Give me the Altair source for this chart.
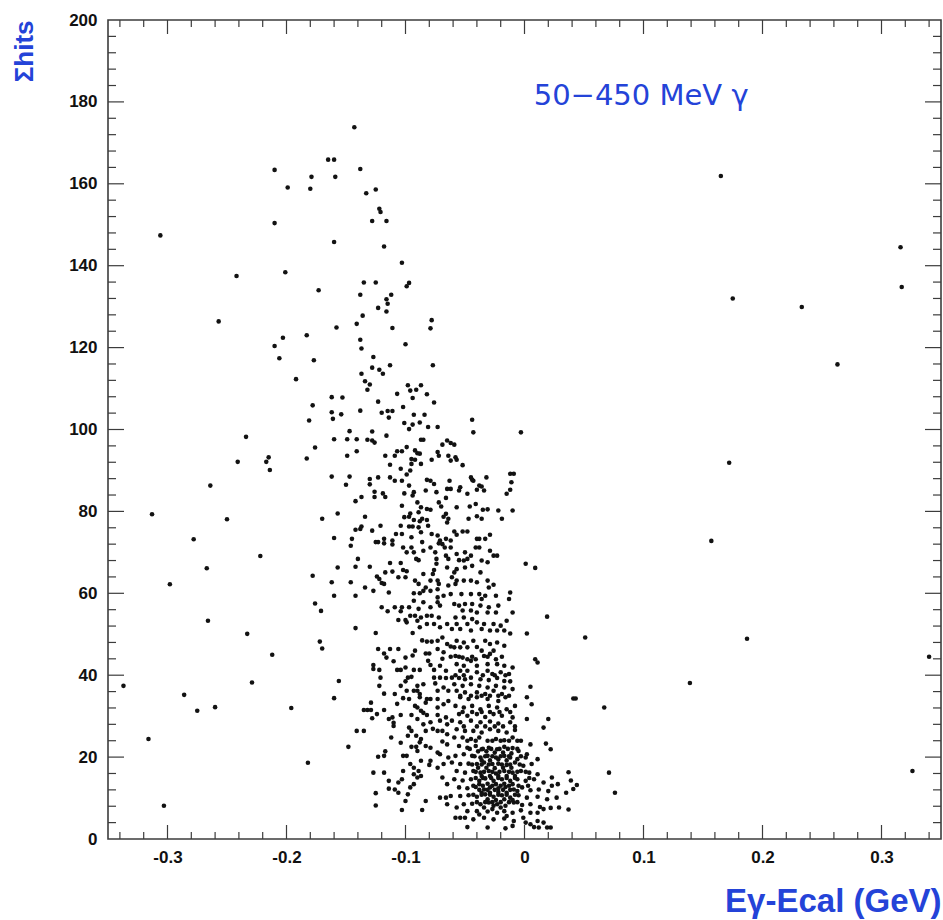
import altair as alt
import pandas as pd

# ---------------- data (Eγ - Ecal in GeV, Σhits) ----------------
pts_far_left = [(-0.210,163.4),(-0.199,159.1),(-0.210,150.4),(-0.306,147.4),(-0.201,138.4),(-0.242,137.5),
    (-0.257,126.4),(-0.203,122.4),(-0.210,120.4),(-0.206,117.4),(-0.192,112.3),(-0.234,98.2),(-0.241,92.1),
    (-0.215,93.2),(-0.217,92.1),(-0.214,90.1),(-0.264,86.3),(-0.313,79.3),(-0.250,78.1),(-0.278,73.2),
    (-0.222,69.1),(-0.267,66.1),(-0.298,62.2),(-0.266,53.3),(-0.233,50.1),(-0.212,45.0),(-0.337,37.4),
    (-0.229,38.2),(-0.286,35.2),(-0.275,31.3),(-0.260,32.2),(-0.196,32.0),(-0.316,24.4),(-0.303,8.1)]

pts_plume_top = [(-0.143,173.8),(-0.165,165.9),(-0.160,165.9),(-0.138,163.6),(-0.179,161.7),(-0.159,161.7),
    (-0.180,158.8),(-0.133,157.7),(-0.125,158.6),(-0.122,153.9),(-0.121,153.1),(-0.128,150.9),(-0.116,150.9),
    (-0.160,145.8),(-0.118,144.7),(-0.103,140.7),(-0.135,135.9),(-0.125,135.9),(-0.097,135.8),(-0.099,135.0),
    (-0.173,134.0),(-0.138,132.9),(-0.112,132.9),(-0.116,131.8),(-0.115,130.7),(-0.123,129.7),(-0.116,128.8),
    (-0.136,127.8),(-0.141,125.8),(-0.158,124.9),(-0.111,124.8),(-0.078,126.7),(-0.079,124.7),(-0.183,123.0),
    (-0.138,121.9),(-0.137,119.8),(-0.100,120.8),(-0.177,116.9),(-0.127,117.7)]

pts_gap = [(-0.178,105.9),(-0.181,102.2),(-0.176,95.6),(-0.183,92.9),(-0.170,78.2),(-0.178,64.3),
    (-0.176,57.5),(-0.171,55.7),(-0.172,48.2),(-0.170,46.5),(-0.182,18.6)]

pts_right = [(0.165,161.9),(0.316,144.5),(0.317,134.8),(0.175,132.0),(0.233,129.9),(0.263,115.9),(0.172,91.9),
    (0.157,72.8),(0.051,49.2),(0.187,48.9),(0.340,44.5),(0.139,38.1),(0.041,34.3),(0.043,34.3),(0.067,32.1),
    (0.037,16.3),(0.071,16.2),(0.326,16.6),(0.039,14.3),(0.044,13.2),(0.041,12.2),(0.035,11.3),(0.076,11.3),
    (0.037,7.2)]

pts_mid = [(-0.113,115.7),(-0.077,115.7),(-0.128,115.1),(-0.122,114.6),(-0.137,113.6),(-0.119,113.6),
    (-0.134,111.8),(-0.130,111.0),(-0.132,109.7),(-0.098,110.8),(-0.091,109.7),(-0.087,110.8),(-0.096,109.5),
    (-0.107,108.7),(-0.082,108.6),(-0.162,107.9),(-0.153,107.8),(-0.094,107.7),(-0.076,106.6),(-0.123,106.8),
    (-0.102,105.5),(-0.138,104.6),(-0.120,104.1),(-0.115,104.5),(-0.111,104.5),(-0.162,104.2),(-0.154,103.7),
    (-0.093,103.6),(-0.084,103.6),(-0.114,102.9),(-0.161,102.6),(-0.044,102.4),(-0.101,101.6),(-0.094,101.2),
    (-0.088,101.7),(-0.081,100.6),(-0.073,100.6),(-0.097,100.1),(-0.003,99.3),(-0.043,99.3),(-0.128,99.5),
    (-0.147,99.6),(-0.160,97.6),(-0.149,97.6),(-0.141,97.6),(-0.132,97.5),(-0.128,97.3),(-0.126,96.8),
    (-0.116,98.5),(-0.087,97.5),(-0.085,97.5),(-0.065,97.3),(-0.062,96.7),(-0.059,96.3),(-0.069,96.3),
    (-0.099,95.7),(-0.092,94.9),(-0.090,94.2),(-0.088,94.1),(-0.107,94.7),(-0.103,94.7),(-0.117,93.6),
    (-0.109,93.6),(-0.073,94.5),(-0.072,93.6),(-0.064,93.6),(-0.058,93.2),(-0.057,92.6),(-0.062,92.4),
    (-0.149,93.6),(-0.141,94.7),(-0.095,92.8),(-0.092,92.6),(-0.078,92.6),(-0.095,91.6),(-0.087,91.6),
    (-0.113,91.4),(-0.052,91.3),(-0.104,90.4),(-0.096,90.0),(-0.099,89.0),(-0.012,89.2),(-0.009,89.2),
    (-0.162,88.5),(-0.147,88.5),(-0.130,87.9),(-0.123,88.3),(-0.113,88.3),(-0.109,87.5),(-0.103,87.5),
    (-0.082,87.7),(-0.079,87.5),(-0.076,86.7),(-0.063,87.5),(-0.045,88.3),(-0.044,87.7),(-0.043,87.5),
    (-0.032,88.3),(-0.038,86.3),(-0.036,86.1),(-0.097,86.3),(-0.150,86.5),(-0.130,86.6),(-0.011,87.1),
    (-0.126,84.8),(-0.119,84.4),(-0.117,83.5),(-0.126,83.5),(-0.137,83.5),(-0.142,82.5),(-0.101,84.4),
    (-0.093,84.7),(-0.094,83.9),(-0.083,85.1),(-0.074,84.7),(-0.065,85.5),(-0.062,85.5),(-0.054,85.9),
    (-0.055,85.1),(-0.048,84.3),(-0.040,85.3),(-0.034,85.1),(-0.015,84.3),(-0.012,85.3),(-0.066,83.3),
    (-0.103,81.4),(-0.090,82.2),(-0.087,81.0),(-0.089,79.8),(-0.082,80.6),(-0.079,80.4),(-0.072,82.2),
    (-0.070,81.2),(-0.057,81.0),(-0.046,81.2),(-0.041,81.8),(-0.035,80.4),(-0.031,80.5),(-0.022,80.2),
    (-0.010,80.2),(-0.157,79.5),(-0.096,79.5),(-0.066,79.4),(-0.134,78.7),(-0.101,78.6),(-0.097,78.7),
    (-0.093,77.9),(-0.088,77.6),(-0.086,78.2),(-0.082,77.9),(-0.068,78.7),(-0.064,78.2),(-0.065,77.3),
    (-0.047,78.2),(-0.040,78.8),(-0.036,78.2),(-0.019,78.2),(-0.137,76.3),(-0.138,75.7),(-0.128,75.3),
    (-0.121,76.5),(-0.104,76.5),(-0.097,76.3),(-0.094,76.3),(-0.089,76.1),(-0.081,76.5),(-0.142,75.5),
    (-0.108,74.5),(-0.103,74.5),(-0.087,74.9),(-0.078,74.5),(-0.073,74.1),(-0.059,75.1),(-0.057,74.3),
    (-0.052,75.1),(-0.048,75.1),(-0.029,74.3),(-0.033,73.3),(-0.160,73.5),(-0.145,73.3),(-0.118,73.3),
    (-0.125,72.5),(-0.123,72.5),(-0.111,72.9),(-0.095,73.7),(-0.086,72.5),(-0.071,72.9),(-0.066,73.3),
    (-0.072,72.2),(-0.062,72.9),(-0.040,73.3),(-0.038,73.3),(-0.146,71.6),(-0.118,72.2),(-0.111,71.9),
    (-0.102,71.2),(-0.095,71.2),(-0.093,70.0),(-0.079,71.2),(-0.075,70.0),(-0.069,72.0),(-0.067,71.2),
    (-0.062,71.2),(-0.041,71.2),(-0.038,71.2),(-0.029,70.4),(-0.099,70.0),(-0.085,70.4),(-0.066,69.2),
    (-0.057,69.6),(-0.050,70.0),(-0.045,69.2),(-0.026,69.2),(-0.023,69.2),(-0.140,68.4),(-0.091,68.4),
    (-0.089,68.1),(-0.074,68.4),(-0.064,68.4),(-0.055,68.1),(-0.051,68.0),(-0.048,68.4),(-0.036,68.0),
    (-0.157,66.3),(-0.142,66.5),(-0.130,66.5),(-0.113,67.4),(-0.104,67.4),(-0.117,65.1),(-0.111,65.3),
    (-0.102,65.7),(-0.099,65.4),(-0.085,64.7),(-0.076,65.7),(-0.074,67.2),(-0.065,66.3),(-0.057,65.9),
    (-0.050,66.3),(-0.044,66.7),(-0.031,67.6),(0.001,67.2),(0.009,66.2),(-0.124,64.1),(-0.077,64.7),
    (-0.059,65.1),(-0.037,65.1),(-0.162,62.7),(-0.146,62.7),(-0.122,63.5),(-0.120,62.5),(-0.134,61.4),
    (-0.127,60.6),(-0.118,62.3),(-0.106,63.9),(-0.100,63.9),(-0.092,63.1),(-0.089,62.3),(-0.079,63.1),
    (-0.073,63.1),(-0.072,62.3),(-0.061,63.9),(-0.057,63.1),(-0.058,62.3),(-0.051,63.1),(-0.045,63.1),
    (-0.040,62.7),(-0.031,63.1),(-0.026,62.1),(-0.030,61.4),(-0.012,60.2),(-0.083,61.4),(-0.073,61.0),
    (-0.064,61.9),(-0.142,59.4),(-0.114,60.2),(-0.093,60.0),(-0.088,60.0),(-0.085,60.6),(-0.079,60.6),
    (-0.073,59.0),(-0.068,59.4),(-0.062,59.8),(-0.053,59.8),(-0.045,59.8),(-0.038,59.8),(-0.033,59.4),
    (-0.024,59.4),(-0.013,58.6),(-0.036,58.6)]

pts_low_left = [(-0.160,59.4),(-0.093,58.2),(-0.085,57.8),(-0.073,57.8),(-0.120,56.6),(-0.115,55.6),
    (-0.109,56.6),(-0.103,56.6),(-0.097,56.6),(-0.104,55.6),(-0.089,56.2),(-0.079,56.6),(-0.071,57.0),
    (-0.096,54.5),(-0.092,54.5),(-0.087,54.1),(-0.106,53.5),(-0.100,53.5),(-0.082,54.5),(-0.078,54.5),
    (-0.072,54.1),(-0.099,52.9),(-0.090,53.3),(-0.142,51.5),(-0.125,50.3),(-0.094,50.3),(-0.088,51.7),
    (-0.082,52.5),(-0.076,52.5),(-0.071,51.7),(-0.065,52.5),(-0.082,48.2),(-0.078,48.2),(-0.073,48.4),
    (-0.069,49.2),(-0.065,47.6),(-0.123,46.4),(-0.118,45.3),(-0.113,46.4),(-0.106,46.4),(-0.116,44.3),
    (-0.100,44.3),(-0.110,43.4),(-0.092,46.0),(-0.083,45.3),(-0.080,45.3),(-0.073,46.4),(-0.068,45.6),
    (-0.127,42.5),(-0.127,41.5),(-0.122,41.3),(-0.107,41.3),(-0.104,41.3),(-0.100,41.9),(-0.093,41.3),
    (-0.088,41.3),(-0.079,42.5),(-0.076,41.3),(-0.071,42.3),(-0.066,41.1),(-0.121,39.4),(-0.122,37.4),
    (-0.098,39.4),(-0.095,39.6),(-0.076,39.4),(-0.071,39.4),(-0.066,39.3),(-0.156,38.6),(-0.104,37.4),
    (-0.100,38.5),(-0.090,37.4),(-0.085,37.8),(-0.093,36.2),(-0.090,36.2),(-0.088,35.4),(-0.099,36.2),
    (-0.109,35.4),(-0.073,36.2),(-0.068,37.0),(-0.064,36.2),(-0.160,34.4),(-0.129,33.3),(-0.102,34.4),
    (-0.097,34.2),(-0.088,34.6),(-0.083,33.3),(-0.082,34.2),(-0.079,34.2),(-0.073,34.2),(-0.068,32.9),
    (-0.064,33.7),(-0.135,31.5),(-0.132,31.5),(-0.129,31.5),(-0.124,30.5),(-0.128,29.5),(-0.118,31.5),
    (-0.111,29.7),(-0.114,29.3),(-0.110,28.4),(-0.110,27.6),(-0.104,30.3),(-0.095,30.3),(-0.090,32.1),
    (-0.087,31.3),(-0.082,30.3),(-0.079,28.5),(-0.073,32.1),(-0.073,30.3),(-0.071,28.9),(-0.066,29.7),
    (-0.065,28.0),(-0.090,29.3),(-0.085,28.0),(-0.141,26.4),(-0.135,26.4),(-0.095,26.4),(-0.098,25.2),
    (-0.091,25.2),(-0.087,24.4),(-0.083,26.4),(-0.073,26.4),(-0.069,26.4),(-0.065,25.6),(-0.148,22.5),
    (-0.123,20.1),(-0.117,21.4),(-0.118,20.3),(-0.102,20.3),(-0.099,20.3),(-0.095,22.5),(-0.091,22.5),
    (-0.088,23.6),(-0.083,22.7),(-0.079,22.3),(-0.090,21.5),(-0.073,21.1),(-0.071,20.7),(-0.065,23.1),
    (-0.064,19.9),(-0.096,18.3),(-0.093,17.4),(-0.087,19.1),(-0.079,19.1),(-0.080,18.1),(-0.068,18.3),
    (-0.073,17.4),(-0.127,16.2),(-0.118,16.2),(-0.102,16.6),(-0.093,15.8),(-0.089,16.6),(-0.090,15.0),
    (-0.087,15.4),(-0.103,14.6),(-0.114,14.2),(-0.106,13.8),(-0.093,13.4),(-0.069,15.0),(-0.065,13.4),
    (-0.096,12.6),(-0.114,12.3),(-0.109,12.1),(-0.106,11.3),(-0.125,11.2),(-0.098,10.9),(-0.071,10.1),
    (-0.066,10.1),(-0.083,9.3),(-0.100,9.3),(-0.125,8.2),(-0.103,7.1),(-0.086,7.1),(-0.065,8.5),
    (-0.112,24.8),(-0.104,23.5),(-0.097,27.2),(-0.085,30.8),(-0.077,26.9),(-0.069,23.8),(-0.075,38.0),
    (-0.081,43.5),(-0.094,44.8),(-0.086,48.5),(-0.069,44.0),(-0.062,47.0),(-0.107,33.0),(-0.118,35.5),
    (-0.092,32.5)]

pts_low_right = [(-0.059,57.4),(-0.055,57.0),(-0.050,57.4),(-0.044,57.4),(-0.037,57.0),(-0.030,56.6),
    (-0.022,57.0),(-0.052,55.8),(-0.045,55.8),(-0.040,55.3),(-0.031,55.3),(-0.024,55.3),(-0.010,55.3),
    (0.019,54.3),(-0.058,54.1),(-0.051,54.1),(-0.044,53.7),(-0.057,52.5),(-0.048,52.5),(-0.040,52.9),
    (-0.034,52.5),(-0.026,52.5),(-0.020,52.1),(-0.015,53.3),(-0.061,51.3),(-0.054,51.3),(-0.045,50.9),
    (-0.036,51.3),(-0.029,50.9),(-0.023,50.9),(-0.017,50.9),(-0.012,50.2),(0.002,50.2),(-0.057,48.4),
    (-0.051,48.0),(-0.043,48.4),(-0.033,48.4),(-0.029,47.6),(-0.023,48.0),(-0.017,47.2),(-0.059,46.8),
    (-0.054,46.8),(-0.048,46.8),(-0.040,46.9),(-0.036,46.0),(-0.026,46.0),(-0.058,44.7),(-0.052,44.3),
    (-0.048,43.9),(-0.045,43.5),(-0.041,43.9),(-0.034,44.7),(-0.029,45.2),(-0.024,43.9),(0.009,43.9),
    (0.011,43.1),(-0.057,42.7),(-0.051,42.3),(-0.040,42.3),(-0.031,42.7),(-0.023,42.7),(-0.017,42.3),
    (-0.010,41.9),(-0.054,41.1),(-0.048,41.1),(-0.040,40.7),(-0.031,41.1),(-0.027,40.3),(-0.020,40.7),
    (-0.013,40.3),(-0.061,39.4),(-0.055,39.3),(-0.050,39.0),(-0.045,39.4),(-0.037,39.0),(-0.030,38.8),
    (-0.023,39.3),(-0.017,38.6),(-0.012,38.5),(-0.059,37.8),(-0.052,37.4),(-0.045,37.8),(-0.038,37.4),
    (-0.031,37.0),(-0.024,37.4),(-0.017,37.0),(-0.010,36.6),(0.005,37.2),(-0.057,36.2),(-0.050,35.8),
    (-0.040,35.8),(-0.033,35.4),(-0.026,36.2),(-0.019,35.4),(-0.054,34.6),(-0.047,34.2),(-0.040,34.6),
    (-0.031,34.2),(-0.022,33.7),(-0.016,34.6),(0.002,34.6),(0.006,32.9),(-0.058,32.5),(-0.051,32.1),
    (-0.044,32.5),(-0.037,31.7),(-0.030,32.5),(-0.023,32.1),(-0.015,31.7),(-0.008,32.5),(-0.055,30.5),
    (-0.048,30.1),(-0.040,30.5),(-0.033,29.8),(-0.026,30.5),(-0.019,30.1),(-0.010,29.7),(-0.061,28.9),
    (-0.054,28.5),(-0.045,28.9),(-0.037,28.5),(-0.029,28.7),(-0.022,28.2),(-0.012,28.5),(0.002,29.3),
    (0.016,27.2),(0.020,29.3),(-0.057,26.8),(-0.050,26.4),(-0.043,26.4),(-0.036,26.0),(-0.029,26.8),
    (-0.022,26.4),(-0.015,26.0),(-0.008,26.6),(-0.059,24.8),(-0.052,24.8),(-0.045,24.4),(-0.038,24.8),
    (-0.031,24.0),(-0.024,24.4),(-0.017,24.1),(-0.010,24.8),(-0.003,24.0),(0.005,23.1),(0.018,23.3),
    (0.022,21.9),(-0.055,22.7),(-0.048,22.3),(-0.041,22.7),(-0.036,21.9),(-0.030,22.3),(-0.023,21.9),
    (-0.017,22.5),(-0.010,22.2),(-0.005,21.5),(0.002,20.7),(-0.058,20.3),(-0.051,20.7),(-0.044,20.3),
    (-0.037,19.9),(-0.031,20.3),(-0.024,19.9),(-0.017,20.3),(-0.012,19.9),(-0.006,19.5),(0.001,19.9),
    (0.011,19.5),(-0.061,18.7),(-0.054,18.3),(-0.047,18.4),(-0.040,18.3),(-0.034,18.7),(-0.027,18.3),
    (-0.022,18.4),(-0.015,18.1),(-0.008,18.7),(-0.001,17.9),(0.006,18.3),(-0.057,16.6),(-0.050,16.2),
    (-0.043,16.6),(-0.037,16.2),(-0.030,16.6),(-0.024,16.0),(-0.017,16.6),(-0.010,16.2),(-0.003,16.6),
    (0.004,16.2),(0.011,15.8),(0.023,15.0),(-0.059,14.6),(-0.052,14.3),(-0.045,14.6),(-0.038,14.2),
    (-0.033,14.8),(-0.026,14.2),(-0.019,14.6),(-0.012,14.2),(-0.006,14.6),(0.001,14.2),(0.008,14.6),
    (0.016,13.8),(0.023,13.0),(0.028,13.4),(-0.055,12.6),(-0.048,12.4),(-0.041,12.7),(-0.034,12.1),
    (-0.029,12.6),(-0.022,12.4),(-0.016,12.7),(-0.009,12.1),(-0.002,12.6),(0.005,11.9),(0.012,12.1),
    (0.020,11.7),(-0.062,10.5),(-0.054,10.5),(-0.047,10.7),(-0.040,10.3),(-0.033,10.9),(-0.026,10.3),
    (-0.019,10.7),(-0.012,10.1),(-0.005,10.7),(0.002,10.1),(0.011,10.3),(0.019,9.7),(0.027,10.1),
    (-0.051,8.5),(-0.044,8.6),(-0.037,8.5),(-0.030,8.9),(-0.023,8.5),(-0.016,8.1),(-0.009,8.9),
    (-0.002,8.3),(0.005,8.5),(0.013,7.8),(0.029,7.7),(0.022,7.6),(-0.057,7.7),(-0.048,6.8),(-0.040,6.8),
    (-0.031,6.7),(-0.023,6.4),(-0.017,6.8),(-0.010,6.4),(-0.003,7.0),(0.005,6.4),(0.011,6.4),(0.016,7.3),
    (-0.026,8.1),(-0.038,6.0),(-0.015,5.6),(-0.058,5.2),(-0.054,5.2),(-0.050,5.2),(-0.043,4.8),
    (-0.034,5.2),(-0.026,4.8),(-0.017,5.0),(-0.009,4.4),(-0.001,5.2),(0.011,4.4),(0.016,4.0),(0.001,4.0),
    (-0.048,2.9),(-0.031,2.8),(-0.016,2.6),(-0.010,3.2),(0.005,3.6),(0.008,2.9),(0.012,2.8),(0.019,2.8),
    (0.022,2.8)]

pts_core = [(-0.039,21.4),(-0.032,21.4),(-0.025,21.1),(-0.018,21.1),(-0.011,20.9),(-0.036,19.2),
    (-0.029,19.2),(-0.022,19.5),(-0.015,19.2),(-0.039,17.4),(-0.032,17.4),(-0.025,17.3),(-0.018,17.4),
    (-0.011,17.4),(-0.036,15.4),(-0.029,15.4),(-0.022,15.4),(-0.015,15.4),(-0.008,15.4),(-0.038,13.4),
    (-0.031,13.5),(-0.024,13.4),(-0.017,13.5),(-0.010,13.4),(-0.036,11.3),(-0.029,11.3),(-0.022,11.5),
    (-0.015,11.3),(-0.006,11.7),(-0.031,9.7),(-0.024,9.5),(-0.017,9.7),(-0.010,9.5),(-0.034,7.7),
    (-0.027,7.3),(-0.020,7.7)]

pts_core_dense = [(-0.046,22.0),(-0.035,22.0),(-0.028,22.0),(-0.021,22.0),(-0.014,22.0),(-0.006,22.0),
    (-0.042,20.2),(-0.033,20.2),(-0.027,20.2),(-0.020,20.2),(-0.013,20.2),(-0.003,20.2),
    (-0.044,18.2),(-0.036,18.2),(-0.030,18.2),(-0.019,18.2),(-0.012,18.2),(-0.004,18.2),
    (-0.041,16.4),(-0.034,16.4),(-0.027,16.4),(-0.021,16.4),(-0.013,16.4),(-0.006,16.4),(0.001,16.4),
    (-0.041,14.9),(-0.035,14.9),(-0.028,14.9),(-0.022,14.9),(-0.015,14.9),(-0.008,14.9),(0.004,14.9),
    (-0.043,13.0),(-0.035,13.0),(-0.027,13.0),(-0.020,13.0),(-0.013,13.0),(-0.005,13.0),(0.003,13.0),
    (-0.038,12.0),(-0.031,12.0),(-0.025,12.0),(-0.018,12.0),(-0.012,12.0),
    (-0.043,10.8),(-0.036,10.8),(-0.029,10.8),(-0.022,10.8),(-0.015,10.8),(-0.008,10.8),
    (-0.040,9.0),(-0.033,9.0),(-0.027,9.0),(-0.020,9.0),(-0.013,9.0),(-0.006,9.0),
    (-0.048,24.0),(-0.041,24.0),(-0.027,24.0),(-0.020,24.0),(-0.013,24.0),(-0.006,24.0),
    (-0.051,27.5),(-0.040,27.5),(-0.033,27.5),(-0.025,27.5),(-0.018,27.5),(-0.008,27.5),
    (-0.052,31.0),(-0.044,31.0),(-0.036,31.0),(-0.029,31.0),(-0.021,31.0),(-0.012,31.0),
    (-0.054,35.0),(-0.045,35.0),(-0.036,35.0),(-0.029,35.0),(-0.022,35.0),(-0.013,35.0),
    (-0.058,40.0),(-0.051,40.0),(-0.035,40.0),(-0.025,40.0),(-0.016,40.0),
    (-0.062,44.5),(-0.055,44.5),(-0.044,44.5),(-0.031,44.5),(-0.019,44.5)]

x_major = [-0.3, -0.2, -0.1, 0.0, 0.1, 0.2, 0.3]
x_minor = [-0.34, -0.32, -0.28, -0.26, -0.24, -0.22, -0.18, -0.16, -0.14, -0.12, -0.08, -0.06, -0.04, -0.02,
           0.02, 0.04, 0.06, 0.08, 0.12, 0.14, 0.16, 0.18, 0.22, 0.24, 0.26, 0.28, 0.32, 0.34]
y_labels = [0, 20, 40, 60, 80, 100, 120, 140, 160, 180, 200]
y_major = [20, 40, 60, 80, 100, 120, 140, 160, 180]
y_minor = [4, 8, 12, 16, 24, 28, 32, 36, 44, 48, 52, 56, 64, 68, 72, 76, 84, 88, 92, 96, 104, 108, 112, 116,
           124, 128, 132, 136, 144, 148, 152, 156, 164, 168, 172, 176, 184, 188, 192, 196]
annotation = ["50\u2212450 MeV \u03b3"]

# ---------------- chart ----------------
W, H = 833, 819
BLUE = "#2443d8"
FRAME = "#3c3c3c"
LABEL_FONT = "Liberation Sans Narrow, Liberation Sans, Arial"

all_pts = (pts_far_left + pts_plume_top + pts_gap + pts_right + pts_mid + pts_low_left
           + pts_low_right + pts_core + pts_core_dense)
df = pd.DataFrame(all_pts, columns=["de", "hits"])

xs = alt.Scale(domain=[-0.35, 0.35], nice=False, zero=False)
ys = alt.Scale(domain=[0, 200], nice=False, zero=False)

x_axis = alt.Axis(
    values=x_major, labelExpr="replace(format(datum.value, '.1~f'), '\u2212', '-')",
    labelFontSize=17, labelFont=LABEL_FONT, labelFontWeight="bold", labelColor="#111",
    labelPadding=10, ticks=False, domain=False, grid=False,
    title="E\u03b3-Ecal (GeV)", titleColor=BLUE, titleFontSize=33, titleFont=LABEL_FONT,
    titleFontWeight="bold", titleX=W, titleY=72, titleAlign="right", titleBaseline="alphabetic")
y_axis = alt.Axis(
    values=y_labels, labelFontSize=17, labelFont=LABEL_FONT, labelFontWeight="bold",
    labelColor="#111", labelPadding=11, ticks=False, domain=False, grid=False,
    title="\u03a3hits", titleColor=BLUE, titleFontSize=26, titleFont=LABEL_FONT,
    titleFontWeight="bold", titleAngle=270, titleX=-84, titleY=0, titleAlign="right",
    titleBaseline="middle")

points = alt.Chart(df).mark_circle(size=21, color="#121212", opacity=1).encode(
    x=alt.X("de:Q", scale=xs, axis=x_axis),
    y=alt.Y("hits:Q", scale=ys, axis=y_axis),
)

def xticks(vals, length, top):
    d = pd.DataFrame({"de": vals})
    y0 = 0 if top else H
    y1 = length if top else H - length
    return alt.Chart(d).mark_rule(color=FRAME, strokeWidth=1.2).encode(
        x=alt.X("de:Q", scale=xs, axis=x_axis), y=alt.value(y0), y2=alt.value(y1))

def yticks(vals, length, right):
    d = pd.DataFrame({"hits": vals})
    x0 = W if right else 0
    x1 = W - length if right else length
    return alt.Chart(d).mark_rule(color=FRAME, strokeWidth=1.2).encode(
        y=alt.Y("hits:Q", scale=ys, axis=y_axis), x=alt.value(x0), x2=alt.value(x1))

label_df = pd.DataFrame({"de": [0.098], "hits": [181.5], "t": annotation})
label = alt.Chart(label_df).mark_text(
    font="DejaVu Sans", fontSize=29, color=BLUE, align="center", baseline="middle"
).encode(x=alt.X("de:Q", scale=xs, axis=x_axis), y=alt.Y("hits:Q", scale=ys, axis=y_axis), text="t:N")

chart = alt.layer(
    points,
    xticks(x_major, 14, False), xticks(x_minor, 7, False),
    xticks(x_major, 14, True), xticks(x_minor, 7, True),
    yticks(y_major, 16, False), yticks(y_minor, 8, False),
    yticks(y_major, 16, True), yticks(y_minor, 8, True),
    label,
).properties(
    width=W, height=H,
    autosize=alt.AutoSizeParams(type="none"),
    padding={"left": 108, "top": 20, "right": 2, "bottom": 81},
    background="white",
).configure_view(stroke=FRAME, strokeWidth=1.6)

chart.save("out.html", embed_options={"renderer": "svg", "actions": False})
